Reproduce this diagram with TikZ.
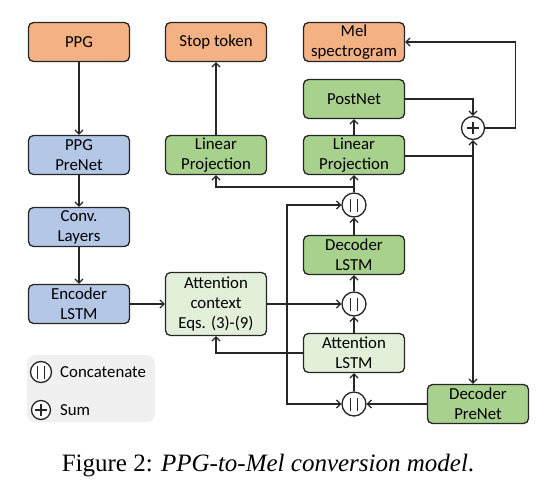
\documentclass[tikz,border=0pt]{standalone}
\usepackage{fontspec}
\setmainfont{Carlito}
\newfontfamily\capfont{Liberation Serif}
\usepackage{tikz}
\usetikzlibrary{positioning}
\usetikzlibrary{arrows.meta}

\definecolor{outorange}{HTML}{F4B183}
\definecolor{encblue}{HTML}{B4C7E7}
\definecolor{decgreen}{HTML}{A9D18E}
\definecolor{attgreen}{HTML}{E2F0D9}
\definecolor{keygray}{HTML}{F0F0F0}
\definecolor{edge}{HTML}{262626}

\begin{document}
\begin{tikzpicture}[x=1pt,y=-1pt,
  blk/.style={draw=edge,line width=1.3pt,rounded corners=5pt,minimum width=101pt,minimum height=39pt,inner sep=0pt,align=center,font=\fontsize{16.8}{20}\selectfont},
  outblk/.style={blk,fill=outorange},
  encblk/.style={blk,fill=encblue},
  decblk/.style={blk,fill=decgreen},
  attblk/.style={blk,fill=attgreen},
  arr/.style={draw=edge,line width=1.3pt,-{Straight Barb[length=4pt,width=8pt]}},
  ln/.style={draw=edge,line width=1.3pt},
  concat/.style={circle,draw=edge,line width=1.3pt,fill=white,minimum size=#1,inner sep=0pt,
    path picture={
      \draw[line width=1.7pt] ([shift={(-3.5pt,-6.5pt)}]path picture bounding box.center) -- ++(0,13pt);
      \draw[line width=1.7pt] ([shift={(3.5pt,-6.5pt)}]path picture bounding box.center) -- ++(0,13pt);}},
  sumop/.style={circle,draw=edge,line width=1.3pt,fill=white,minimum size=#1,inner sep=0pt,
    path picture={
      \draw[line width=1.5pt] ([xshift=-6pt]path picture bounding box.center) -- ++(12pt,0);
      \draw[line width=1.5pt] ([yshift=-6pt]path picture bounding box.center) -- ++(0,12pt);}}]
 \useasboundingbox (0,0) rectangle (541,485);

 \node[outblk] (ppg) at (79,42) {PPG};
 \node[outblk] (stop) at (216,42) {Stop token};
 \node[outblk] (mel) at (354,42) {Mel\\spectrogram};
 \node[decblk] (post) at (354,99) {PostNet};
 \node[decblk] (lpr) at (354,155) {Linear\\Projection};
 \node[decblk] (lpl) at (216,155) {Linear\\Projection};
 \node[encblk] (pre) at (79,155) {PPG\\PreNet};
 \node[encblk] (conv) at (79,227) {Conv.\\Layers};
 \node[encblk] (enc) at (79,304) {Encoder\\LSTM};
 \node[attblk,minimum height=63pt] (att) at (216,304) {Attention\\context\\Eqs. (3)-(9)};
 \node[decblk] (dlstm) at (354,255) {Decoder\\LSTM};
 \node[attblk] (alstm) at (354,353) {Attention\\LSTM};
 \node[decblk] (dpre) at (478,404) {Decoder\\PreNet};
 \node[concat=24pt] (cat1) at (354,205) {};
 \node[concat=24pt] (cat2) at (354,304) {};
 \node[concat=24pt] (cat3) at (354,404) {};
 \node[sumop=23pt] (sum) at (473,128) {};

 \fill[keygray,rounded corners=8pt] (27,355) rectangle (155,422);
 \node[concat=21pt] (keycat) at (41,372) {};
 \node[sumop=19pt] (keysum) at (41,410) {};
 \node[anchor=west,inner sep=0pt,font=\fontsize{16.8}{20}\selectfont] (keycattxt) at (60,372) {Concatenate};
 \node[anchor=west,inner sep=0pt,font=\fontsize{16.8}{20}\selectfont] (keysumtxt) at (60,410) {Sum};

 \node[font=\capfont\fontsize{25}{28}\selectfont] (cap) at (268,466) {Figure 2: \textit{PPG-to-Mel conversion model}.};

 \coordinate (split) at (287,304);
 \coordinate (tap) at (354,187);
 \coordinate (fork) at (473,156);

 \draw[arr] (ppg) -- (pre);
 \draw[arr] (pre) -- (conv);
 \draw[arr] (conv) -- (enc);
 \draw[arr] (enc) -- (att);
 \draw[arr] (att) -- (cat2);
 \draw[arr] (split) |- (cat1);
 \draw[arr] (split) |- (cat3);
 \draw[arr] (cat3) -- (alstm);
 \draw[arr] (alstm) -- (cat2);
 \draw[arr] (alstm.west) -| (att.south);
 \draw[arr] (cat2) -- (dlstm);
 \draw[arr] (dlstm) -- (cat1);
 \draw[arr] (cat1) -- (lpr);
 \draw[arr] (tap) -| (lpl.south);
 \draw[arr] (lpl) -- (stop);
 \draw[arr] (lpr) -- (post);
 \draw[arr] (post.east) -| (sum.north);
 \draw[ln] (lpr.east |- fork) -- (fork);
 \draw[arr] (fork) -- (sum.south);
 \draw[arr] (fork) -- (fork |- dpre.north);
 \draw[arr] (sum.east) -- ++(30,0) |- (mel.east);
 \draw[arr] (dpre.west) -- (cat3.east);
\end{tikzpicture}
\end{document}
